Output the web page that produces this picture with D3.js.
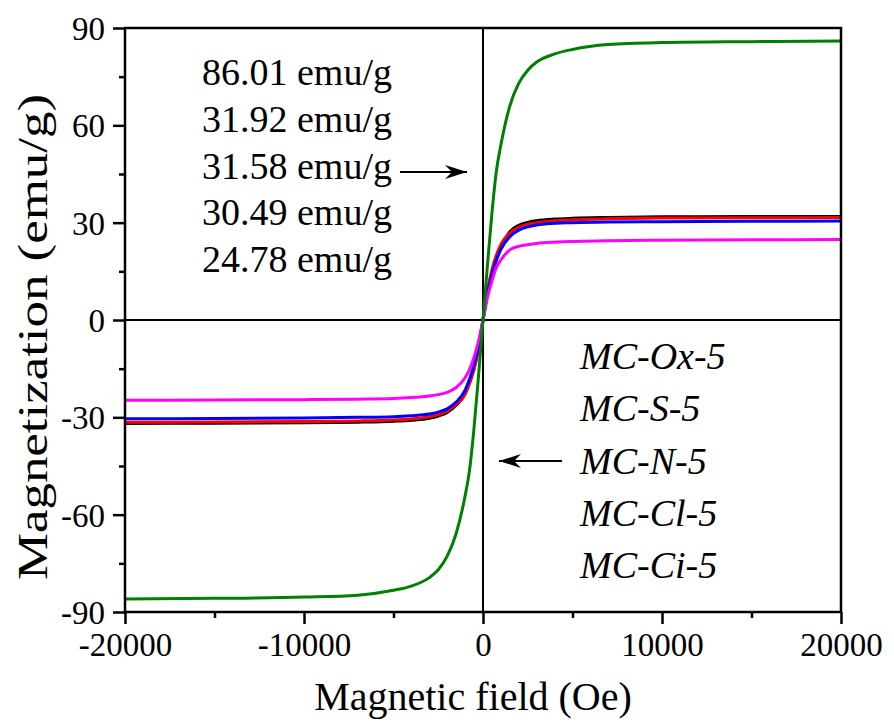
<!DOCTYPE html>
<html>
<head>
<meta charset="utf-8">
<script src="https://cdn.jsdelivr.net/npm/d3@7"></script>
<style>
  html, body { margin: 0; padding: 0; background: #fff; }
  svg { display: block; }
</style>
</head>
<body>
<div id="chart"></div>
<script>
// M-H loops, values
var FIELD = [-20000, -15000, -10000, -7000, -5000, -4000, -3000, -2500, -2000, -1500, -1000, -750, -500, -250,
  0, 250, 500, 750, 1000, 1500, 2000, 2500, 3000, 4000, 5000, 7000, 10000, 15000, 20000];

var GREEN = [-86.0, -85.8, -85.4, -84.8, -83.3, -82.0, -79.4, -77.0, -72.8, -65.8, -54.2, -46.2, -33.2, -17.2,
  0, 17, 33, 46, 54, 66, 73, 77, 79.5, 82, 83.4, 84.9, 85.5, 85.8, 86.01];
var BLACK = [-31.9, -31.8, -31.7, -31.5, -31.2, -30.9, -30.3, -29.6, -28.5, -26.3, -22.6, -19.0, -14.8, -8.8,
  0, 8.5, 14.6, 18.7, 22.2, 27.2, 29.2, 30.1, 30.6, 31.1, 31.35, 31.6, 31.8, 31.88, 31.92];
var RED = [-31.55, -31.45, -31.3, -31.1, -30.8, -30.5, -29.8, -29.2, -28.1, -26.0, -22.9, -19.6, -15.2, -9.0,
  0, 9, 15.5, 20, 23.3, 26.8, 28.6, 29.5, 30.0, 30.6, 30.9, 31.2, 31.4, 31.5, 31.58];
var BLUE = [-30.45, -30.35, -30.2, -30.0, -29.8, -29.5, -29.0, -28.4, -27.4, -25.3, -21.6, -18.2, -13.8, -8.0,
  0, 8, 14, 18.5, 21.8, 25.7, 27.7, 28.7, 29.3, 29.8, 30.0, 30.2, 30.3, 30.42, 30.49];
var MAGENTA = [-24.75, -24.65, -24.55, -24.4, -24.2, -23.9, -23.4, -23.0, -22.3, -20.8, -17.8, -15.2, -11.5, -6.5,
  0, 7, 12, 16.2, 18.5, 21.6, 22.7, 23.2, 23.6, 24.0, 24.2, 24.45, 24.6, 24.7, 24.78];

var SERIES = [
  { color: "#000000", values: BLACK },
  { color: "#ff0000", values: RED },
  { color: "#0000ff", values: BLUE },
  { color: "#ff00ff", values: MAGENTA },
  { color: "#008000", values: GREEN }
];

var MS_LABELS = ["86.01 emu/g", "31.92 emu/g", "31.58 emu/g", "30.49 emu/g", "24.78 emu/g"];
var SAMPLE_LABELS = ["MC-Ox-5", "MC-S-5", "MC-N-5", "MC-Cl-5", "MC-Ci-5"];
var X_TICKS = [-20000, -10000, 0, 10000, 20000];
var X_MINOR = [-15000, -5000, 5000, 15000];
var Y_TICKS = [-90, -60, -30, 0, 30, 60, 90];
var Y_MINOR = [-75, -45, -15, 15, 45, 75];

var SERIF = "'Liberation Serif', 'Times New Roman', Times, 'DejaVu Serif', serif";

var W = 894, H = 725;
var margin = { top: 28, right: 53, bottom: 113, left: 125 };
var iw = W - margin.left - margin.right;
var ih = H - margin.top - margin.bottom;

var svg = d3.select("#chart").append("svg").attr("width", W).attr("height", H)
  .attr("font-family", SERIF);
var g = svg.append("g").attr("transform", "translate(" + margin.left + "," + margin.top + ")");

var x = d3.scaleLinear().domain([-20000, 20000]).range([0, iw]);
var y = d3.scaleLinear().domain([-90, 90]).range([ih, 0]);

// plain hyphen for negatives, like the original
function fmt(d) { return String(d); }

// zero lines
g.append("line").attr("x1", x(0)).attr("x2", x(0)).attr("y1", 0).attr("y2", ih)
  .attr("stroke", "#000").attr("stroke-width", 2);
g.append("line").attr("x1", 0).attr("x2", iw).attr("y1", y(0)).attr("y2", y(0))
  .attr("stroke", "#000").attr("stroke-width", 2);

// curves
var line = d3.line()
  .x(function (d, i) { return x(FIELD[i]); })
  .y(function (d) { return y(d); })
  .curve(d3.curveMonotoneX);

g.selectAll("path.curve")
  .data(SERIES)
  .enter()
  .append("path")
  .attr("class", "curve")
  .attr("d", function (d) { return line(d.values); })
  .attr("fill", "none")
  .attr("stroke", function (d) { return d.color; })
  .attr("stroke-width", 3);

// frame
g.append("rect").attr("x", 0).attr("y", 0).attr("width", iw).attr("height", ih)
  .attr("fill", "none").attr("stroke", "#000").attr("stroke-width", 2.5);

// axes
var xAxis = g.append("g").attr("transform", "translate(0," + ih + ")")
  .call(d3.axisBottom(x).tickValues(X_TICKS).tickSize(12).tickPadding(6).tickFormat(fmt));
g.append("g").attr("transform", "translate(0," + ih + ")")
  .call(d3.axisBottom(x).tickValues(X_MINOR).tickSize(6).tickFormat(""));
var yAxis = g.append("g")
  .call(d3.axisLeft(y).tickValues(Y_TICKS).tickSize(12).tickPadding(8).tickFormat(fmt));
g.append("g")
  .call(d3.axisLeft(y).tickValues(Y_MINOR).tickSize(6).tickFormat(""));

g.selectAll(".domain").remove();
g.selectAll("g").attr("font-family", SERIF).attr("font-size", 33);
g.selectAll(".tick line").attr("stroke", "#000").attr("stroke-width", 2.5);
g.selectAll(".tick text").attr("fill", "#000");
xAxis.selectAll(".tick text").attr("dy", "0.8em");
yAxis.selectAll(".tick text").attr("dy", "0.35em");

// axis titles
svg.append("text")
  .attr("x", margin.left + iw / 2 - 10).attr("y", 710)
  .attr("text-anchor", "middle").attr("font-size", 40)
  .text("Magnetic field (Oe)");
svg.append("text")
  .attr("transform", "translate(47,337) rotate(-90)")
  .attr("text-anchor", "middle").attr("font-size", 43)
  .attr("textLength", 486).attr("lengthAdjust", "spacingAndGlyphs")
  .text("Magnetization (emu/g)");

// saturation values
svg.selectAll("text.ms")
  .data(MS_LABELS)
  .enter()
  .append("text")
  .attr("class", "ms")
  .attr("x", 202)
  .attr("y", function (d, i) { return 85 + i * 46.8; })
  .attr("font-size", 38)
  .text(function (d) { return d; });

// sample names
svg.selectAll("text.sample")
  .data(SAMPLE_LABELS)
  .enter()
  .append("text")
  .attr("class", "sample")
  .attr("x", 580)
  .attr("y", function (d, i) { return 369 + i * 52.3; })
  .attr("font-size", 38)
  .attr("font-style", "italic")
  .text(function (d) { return d; });

// arrows
function arrow(x1, y1, x2, y2) {
  svg.append("line").attr("x1", x1).attr("y1", y1).attr("x2", x2).attr("y2", y2)
    .attr("stroke", "#000").attr("stroke-width", 2);
  var dir = x2 > x1 ? 1 : -1;
  svg.append("path")
    .attr("d", "M" + (x2 - dir * 22) + "," + (y2 - 7) + " L" + x2 + "," + y2 +
      " L" + (x2 - dir * 22) + "," + (y2 + 7) + " L" + (x2 - dir * 15) + "," + y2 + " Z")
    .attr("fill", "#000");
}
arrow(400, 172, 467, 172);
arrow(562, 461, 499, 461);
</script>
</body>
</html>
